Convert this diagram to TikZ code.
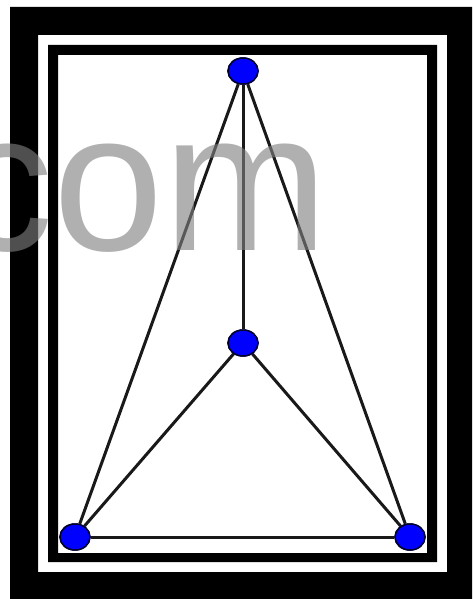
\documentclass[tikz,border=0pt]{standalone}
\usepackage{fontspec}
\setmainfont{Liberation Sans}
\usetikzlibrary{shapes.geometric}
\begin{document}
\begin{tikzpicture}[x=1pt,y=-1pt,
  vtx/.style={ellipse,draw=black!80!blue,line width=1.5pt,fill=blue,minimum width=30pt,minimum height=26pt,inner sep=0pt},
  edge/.style={line width=3pt,draw=black!90},
  wmark/.style={text=gray,text opacity=0.62,font=\fontsize{198}{200}\selectfont,inner sep=0pt}]
\useasboundingbox (0,0) rectangle (472,599);
\fill[white] (0,0) rectangle (472,599);
% outer thick frame
\fill[black,even odd rule] (10,7) rectangle (472,599) (38,35) rectangle (447,572);
% inner frame
\fill[black,even odd rule] (48,45) rectangle (437,562) (58,55) rectangle (427,553);
% vertices
\node[vtx] (t) at (243,71) {};
\node[vtx] (m) at (243,343) {};
\node[vtx] (l) at (75,537) {};
\node[vtx] (r) at (410,537) {};
\begin{scope}[on background layer/.style={}]
\draw[edge] (t) -- (m);
\draw[edge] (t) -- (l);
\draw[edge] (t) -- (r);
\draw[edge] (m) -- (l);
\draw[edge] (m) -- (r);
\draw[edge] (l) -- (r);
\end{scope}
% redraw vertices on top of edges
\node[vtx] at (t) {};
\node[vtx] at (m) {};
\node[vtx] at (l) {};
\node[vtx] at (r) {};
% watermark
\node[wmark,anchor=base east] (w) at (329,250) {com};
\end{tikzpicture}
\end{document}
